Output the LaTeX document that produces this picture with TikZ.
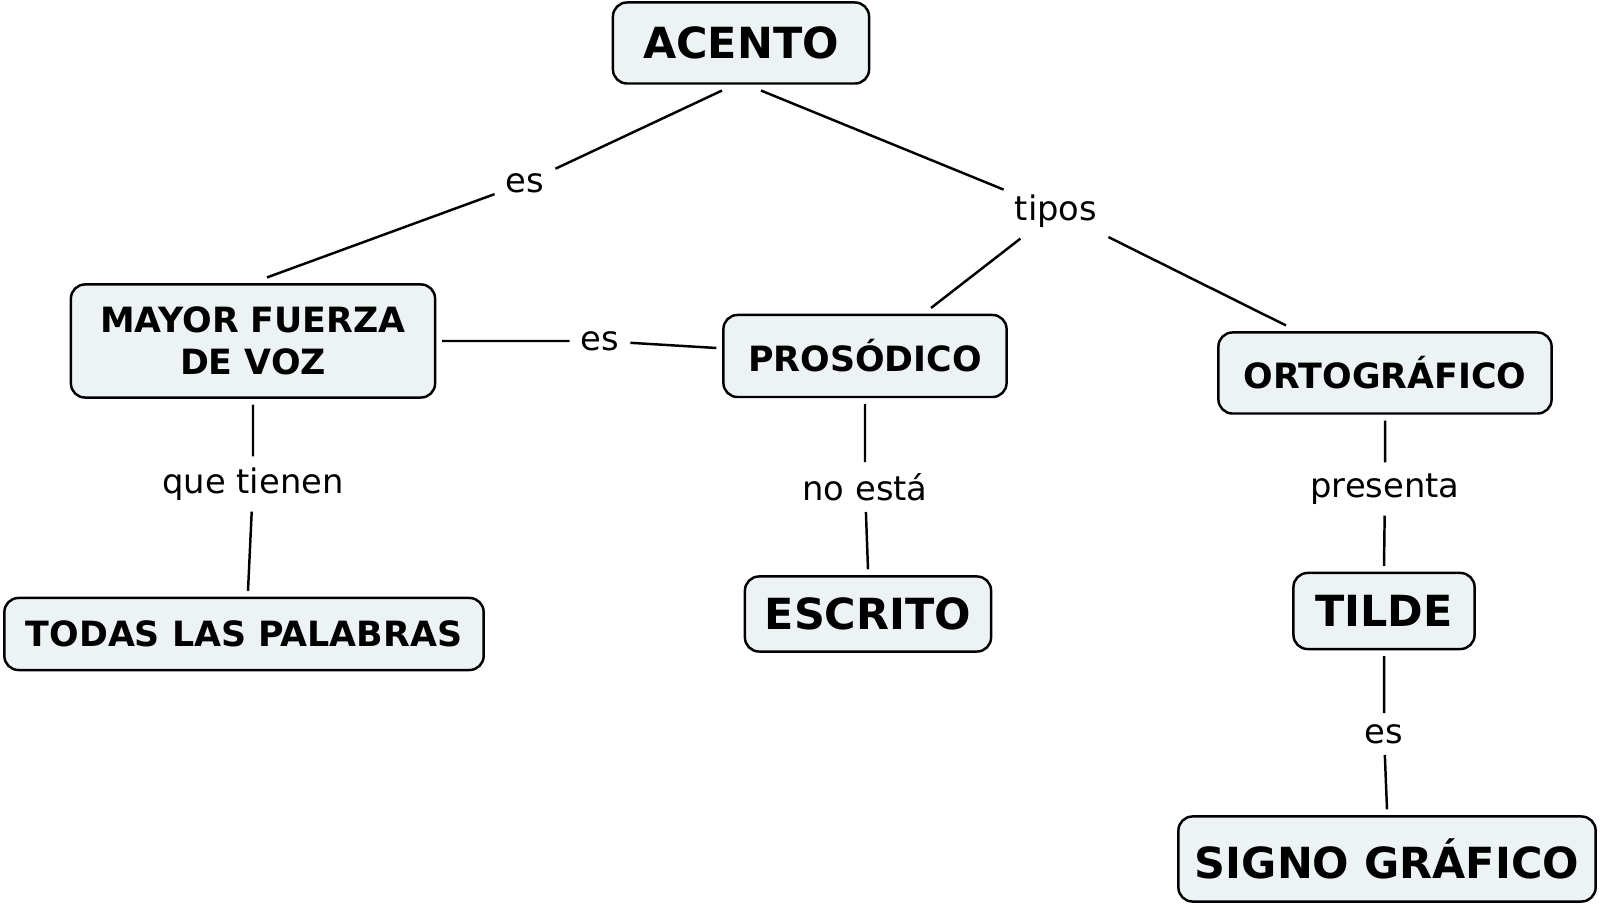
\documentclass[tikz,border=0pt]{standalone}
\usepackage{fontspec}
\setmainfont{DejaVu Sans}
\usetikzlibrary{calc}
\definecolor{cmapfill}{RGB}{237,243,245}

\begin{document}
\begin{tikzpicture}[x=0.01cm,y=-0.01cm,
    concepto/.style={draw=black, line width=0.7pt, fill=cmapfill, rounded corners=4pt,
        outer sep=2pt, inner sep=0pt, align=center,
        font=\bfseries\fontsize{9.9}{11.8}\selectfont},
    grande/.style={concepto, font=\bfseries\fontsize{12.2}{15}\selectfont},
    enlace/.style={inner sep=3pt, font=\fontsize{9.6}{11.5}\selectfont},
    linea/.style={line width=0.7pt}]

    \useasboundingbox (0,0) rectangle (1600,907);

    % conceptos
    \node[grande, minimum width=2.56cm, minimum height=0.81cm] (acento) at (741,43) {ACENTO};
    \node[concepto, minimum width=3.64cm, minimum height=1.13cm] (mayor) at (253,341) {MAYOR FUERZA~\\ DE VOZ};
    \node[concepto, minimum width=2.83cm, minimum height=0.82cm] (prosodico) at (865,356) {PROSÓDICO};
    \node[concepto, minimum width=3.33cm, minimum height=0.81cm] (ortografico) at (1385,373) {ORTOGRÁFICO};
    \node[concepto, minimum width=4.79cm, minimum height=0.72cm] (todas) at (244,634) {TODAS LAS PALABRAS};
    \node[grande, minimum width=2.46cm, minimum height=0.75cm] (escrito) at (868,614) {ESCRITO};
    \node[grande, minimum width=1.81cm, minimum height=0.76cm] (tilde) at (1384,611) {TILDE};
    \node[grande, minimum width=4.17cm, minimum height=0.85cm] (signo) at (1387,859) {SIGNO GRÁFICO};

    % frases de enlace
    \node[enlace] (es1) at (525,183) {es};
    \node[enlace] (tipos) at (1056,211) {tipos};
    \node[enlace] (es2) at (600,341) {es};
    \node[enlace] (tienen) at (253,484) {que tienen};
    \node[enlace] (noesta) at (865,487) {no está};
    \node[enlace] (presenta) at (1385,489) {presenta};
    \node[enlace] (es3) at (1384,734) {es};

    % conexiones
    \draw[linea] ([xshift=-0.19cm]acento.south) -- (es1) -- ([xshift=0.14cm]mayor.north);
    \draw[linea] ([xshift=0.2cm]acento.south) -- (tipos);
    \draw[linea] (tipos) -- ([xshift=0.66cm]prosodico.north);
    \draw[linea] (tipos) -- ([xshift=-0.99cm]ortografico.north);
    \draw[linea] (mayor.east) -- (es2) -- ([yshift=0.08cm]prosodico.west);
    \draw[linea] (mayor.south) -- (tienen) -- ([xshift=0.04cm]todas.north);
    \draw[linea] (prosodico.south) -- (noesta) -- (escrito.north);
    \draw[linea] (ortografico.south) -- (presenta) -- (tilde.north);
    \draw[linea] (tilde.south) -- (es3) -- (signo.north);
\end{tikzpicture}
\end{document}
